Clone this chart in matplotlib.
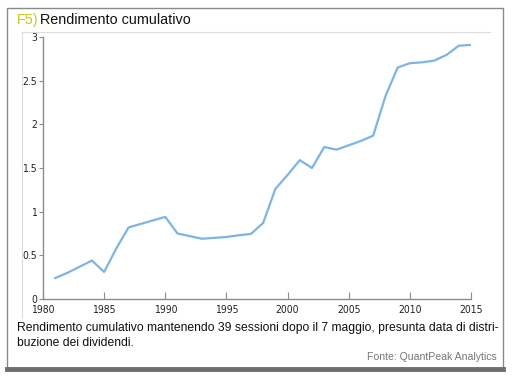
import matplotlib.pyplot as plt
from matplotlib.patches import Rectangle
from matplotlib.lines import Line2D

# data
years = [1981, 1982, 1983, 1984, 1985, 1986, 1987, 1988, 1989, 1990,
         1991, 1992, 1993, 1994, 1995, 1996, 1997, 1998, 1999, 2000,
         2001, 2002, 2003, 2004, 2005, 2006, 2007, 2008, 2009, 2010,
         2011, 2012, 2013, 2014, 2015]
rendimento = [0.24, 0.30, 0.37, 0.44, 0.31, 0.58, 0.82, 0.86, 0.90, 0.94,
              0.75, 0.72, 0.69, 0.70, 0.71, 0.73, 0.745, 0.87, 1.26, 1.42,
              1.59, 1.50, 1.74, 1.71, 1.76, 1.81, 1.87, 2.32, 2.65, 2.70,
              2.71, 2.73, 2.795, 2.90, 2.91]
x_ticks = [1980, 1985, 1990, 1995, 2000, 2005, 2010, 2015]
y_ticks = [0, 0.5, 1, 1.5, 2, 2.5, 3]
y_labels = ['0', '0.5', '1', '1.5', '2', '2.5', '3']

plt.rcParams['font.family'] = ['Liberation Sans', 'DejaVu Sans']

fig = plt.figure(figsize=(5.12, 3.78), dpi=100)
W, H = 512, 378

# outer frame
fig.add_artist(Rectangle((7 / W, 1 - 368 / H), 496 / W, 360 / H, transform=fig.transFigure,
                         fill=False, edgecolor='#8a8a8a', linewidth=1.0))
fig.add_artist(Line2D([7 / W, 503 / W], [1 - 369 / H, 1 - 369 / H], transform=fig.transFigure,
                      color='#6e6e6e', linewidth=3.5))
# inner panel lines
fig.add_artist(Line2D([22 / W, 490 / W], [1 - 32 / H, 1 - 32 / H], transform=fig.transFigure,
                      color='#dddddd', linewidth=0.8))
fig.add_artist(Line2D([22 / W, 22 / W], [1 - 32 / H, 1 - 318 / H], transform=fig.transFigure,
                      color='#dddddd', linewidth=0.8))

ax = fig.add_axes([43 / W, 79 / H, 428 / W, 262 / H])
ax.plot(years, rendimento, color='#7cb5e3', linewidth=1.6)
ax.set_xlim(1980, 2015)
ax.set_ylim(0, 3)
ax.set_xticks(x_ticks)
ax.set_yticks(y_ticks)
ax.set_yticklabels(y_labels)

for s in ['top', 'right']:
    ax.spines[s].set_visible(False)
for s in ['left', 'bottom']:
    ax.spines[s].set_color('#8c8c8c')
    ax.spines[s].set_linewidth(1.0)
ax.tick_params(axis='x', direction='in', length=5, color='#8c8c8c', pad=4,
               labelsize=7.5, labelcolor='#222222')
ax.tick_params(axis='y', direction='out', length=3, color='#8c8c8c', pad=1.5,
               labelsize=7.5, labelcolor='#222222')
for lab in ax.get_xticklabels() + ax.get_yticklabels():
    lab.set_fontfamily('DejaVu Sans')
    lab.set_fontstretch('condensed')

fig.text(17 / W, 1 - 20 / H, 'F5)', color='#c9c81e', fontsize=10.4, va='center')
fig.text(40 / W, 1 - 20 / H, 'Rendimento cumulativo', color='#111111', fontsize=10.4, va='center')

fig.text(17 / W, 1 - 328 / H,
         'Rendimento cumulativo mantenendo 39 sessioni dopo il 7 maggio, presunta data di distri-',
         color='#111111', fontsize=8.7, va='center')
fig.text(17 / W, 1 - 343 / H, 'buzione dei dividendi.', color='#111111', fontsize=8.7, va='center')
fig.text(497 / W, 1 - 357 / H, 'Fonte: QuantPeak Analytics', color='#777777', fontsize=7.6,
         va='center', ha='right')

fig.savefig('out.png', dpi=100)
